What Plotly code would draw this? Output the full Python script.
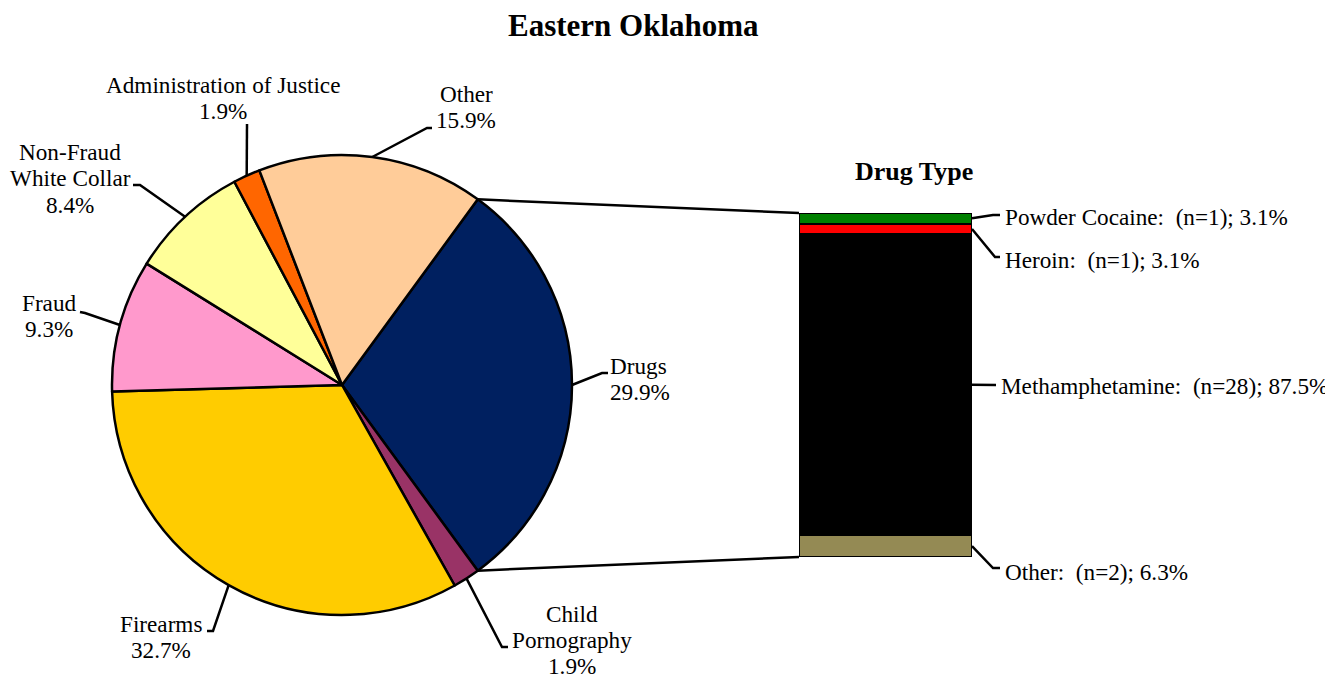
import math
import plotly.graph_objects as go

W, H = 1333, 681
OFF = 8                      # page body margin in the browser
FW, FH = W - OFF, H - OFF    # figure size so that it ends at the window edge

# ---------------- data ----------------
chart_title = "Eastern Oklahoma"
pie_names = ["Drugs", "Child Pornography", "Firearms", "Fraud",
             "Non-Fraud White Collar", "Administration of Justice", "Other"]
pie_label_lines = [["Drugs"], ["Child", "Pornography"], ["Firearms"], ["Fraud"],
                   ["Non-Fraud", "White Collar"], ["Administration of Justice"], ["Other"]]
pie_values = [29.9, 1.9, 32.7, 9.3, 8.4, 1.9, 15.9]
pie_colors = ["#002060", "#993366", "#FFCC00", "#FF99CC", "#FFFF99", "#FF6600", "#FFCC99"]

drug_title = "Drug Type"
drug_types = ["Powder Cocaine", "Heroin", "Methamphetamine", "Other"]
drug_counts = [1, 1, 28, 2]
drug_pcts = [3.1, 3.1, 87.5, 6.3]
drug_colors = ["#008000", "#FF0000", "#000000", "#948A54"]

# ---------------- layout constants (reference pixels) ----------------
FONT = "Liberation Serif, Times New Roman, serif"
LBL_SIZE = 23.2
LINE_H = 26.5
CX, CY, R = 342, 385, 230                 # pie centre / radius
BX0, BX1, BY0, BY1 = 799, 972, 213, 557   # drug bar box


def px(x):
    return (x - OFF) / FW


def py(y):
    return 1 - (y - OFF) / FH


total = sum(pie_values)
rotation = 90 - pie_values[0] / total * 360 / 2   # centre Drugs on 3 o'clock


def pie_point(angle_deg):
    a = math.radians(angle_deg)
    return CX + R * math.sin(a), CY - R * math.cos(a)


# label placement: (x, y-centre, xanchor, line height, elbow points from pie outward to text)
pie_label_pos = [
    (608, 379, "left", 26.5, [(602, 373), (608, 373)]),
    (572, 640, "center", 26.0, [(502, 647), (508, 647)]),
    (161, 637, "center", 26.5, [(213, 631), (207, 631)]),
    (49, 316, "center", 26.5, [(85, 313), (80, 312)]),
    (70, 178, "center", 26.5, [(140, 185), (133, 185)]),
    (223, 98, "center", 26.5, [(247, 124)]),
    (466, 107, "center", 26.5, [(427, 128), (432, 128)]),
]

drug_label_pos = [
    (1003, 217, [(993, 215), (1000, 215)]),
    (1003, 260, [(995, 257), (1000, 257)]),
    (999, 386, [(996, 385)]),
    (1003, 572, [(993, 568), (1000, 568)]),
]

fig = go.Figure()

fig.add_trace(go.Pie(
    labels=pie_names, values=pie_values, sort=False, direction="clockwise",
    rotation=rotation, textinfo="none", showlegend=False,
    marker=dict(colors=pie_colors, line=dict(color="#000000", width=2.5)),
    domain=dict(x=[px(CX - R), px(CX + R)], y=[py(CY + R), py(CY - R)]),
))

# stacked drug bar: bottom to top
for name, n, pct, col in reversed(list(zip(drug_types, drug_counts, drug_pcts, drug_colors))):
    fig.add_trace(go.Bar(
        x=[0], y=[pct], name=name, width=1, showlegend=False,
        marker=dict(color=col, line=dict(color="#000000", width=2)),
        xaxis="x", yaxis="y",
    ))

shapes = []
annotations = []


def path_from(points):
    d = "M {},{}".format(px(points[0][0]), py(points[0][1]))
    for (x, y) in points[1:]:
        d += " L {},{}".format(px(x), py(y))
    return d


def add_text_block(lines, x, yc, anchor, size=LBL_SIZE, bold=False, line_h=LINE_H):
    n = len(lines)
    for k, line in enumerate(lines):
        y = yc + (k - (n - 1) / 2) * line_h
        txt = "<b>{}</b>".format(line) if bold else line
        annotations.append(dict(
            x=px(x), y=py(y), xref="paper", yref="paper", showarrow=False,
            xanchor=anchor, yanchor="middle", align="center", text=txt,
            font=dict(family=FONT, size=size, color="#000000"),
        ))


# pie leader lines and labels
cum = 0.0
for i, v in enumerate(pie_values):
    mid = rotation + (cum + v / 2) / total * 360
    cum += v
    start = pie_point(mid)
    lx, ly, anchor, lh, elbow = pie_label_pos[i]
    shapes.append(dict(type="path", xref="paper", yref="paper",
                       path=path_from([start] + elbow),
                       line=dict(color="#000000", width=2.5)))
    add_text_block(pie_label_lines[i] + ["{:.1f}%".format(v)], lx, ly, anchor, line_h=lh)

# connector lines from Drugs slice edges to bar corners
a_start = rotation
a_end = rotation + pie_values[0] / total * 360
p1 = pie_point(a_start)
p2 = pie_point(a_end)
shapes.append(dict(type="line", xref="paper", yref="paper",
                   x0=px(p1[0]), y0=py(p1[1]), x1=px(BX0), y1=py(BY0),
                   line=dict(color="#000000", width=2.5)))
shapes.append(dict(type="line", xref="paper", yref="paper",
                   x0=px(p2[0]), y0=py(p2[1]), x1=px(BX0), y1=py(BY1),
                   line=dict(color="#000000", width=2.5)))

# drug bar leader lines & labels (segments listed top to bottom)
btotal = sum(drug_pcts)
top_cum = 0.0
for i, (name, n, pct) in enumerate(zip(drug_types, drug_counts, drug_pcts)):
    yc = BY0 + (top_cum + pct / 2) / btotal * (BY1 - BY0)
    top_cum += pct
    lx, ly, elbow = drug_label_pos[i]
    shapes.append(dict(type="path", xref="paper", yref="paper",
                       path=path_from([(BX1, yc)] + elbow),
                       line=dict(color="#000000", width=2.5)))
    add_text_block(["{}:\u00a0 (n={}); {:.1f}%".format(name, n, pct)], lx, ly, "left")

add_text_block([chart_title], 633, 25, "center", size=31, bold=True)
add_text_block([drug_title], 914, 171, "center", size=26, bold=True)

fig.update_layout(
    width=FW, height=FH, autosize=False,
    margin=dict(l=0, r=0, t=0, b=0),
    paper_bgcolor="#FFFFFF", plot_bgcolor="rgba(0,0,0,0)",
    barmode="stack", bargap=0,
    xaxis=dict(domain=[px(BX0), px(BX1)], range=[-0.5, 0.5], visible=False, fixedrange=True),
    yaxis=dict(domain=[py(BY1), py(BY0)], range=[0, sum(drug_pcts)], visible=False, fixedrange=True),
    shapes=shapes, annotations=annotations,
    font=dict(family=FONT, color="#000000"),
)

fig.write_html("out.html")
